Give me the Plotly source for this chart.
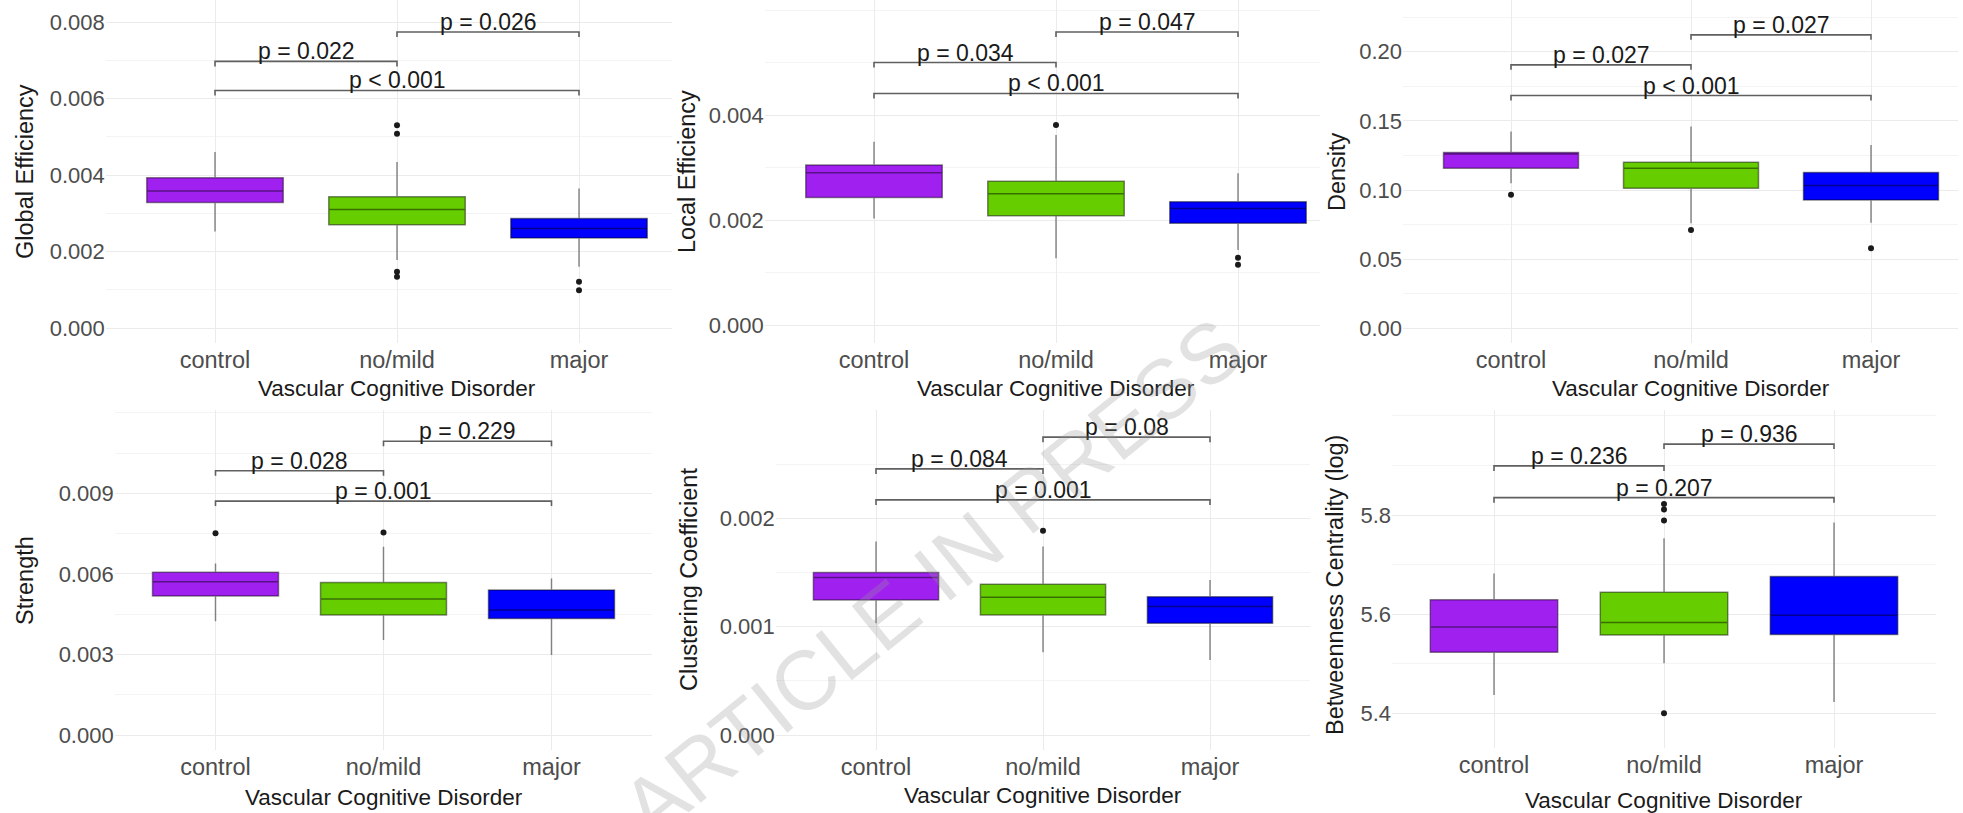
import plotly.graph_objects as go

W, H = 1963, 813
CATS = ["control", "no/mild", "major"]
COLORS = ["#A020F0", "#66CD00", "#0000FF"]
XTITLE = "Vascular Cognitive Disorder"

# ---------------- data ----------------
# Global Efficiency
ge_q1 = [0.00328, 0.00270, 0.00235]
ge_med = [0.00358, 0.00310, 0.00260]
ge_q3 = [0.00393, 0.00343, 0.00286]
ge_lo = [0.00252, 0.00178, 0.00160]
ge_hi = [0.00460, 0.00434, 0.00365]
ge_out = [[], [0.00530, 0.00508, 0.00147, 0.00134], [0.00121, 0.00099]]
ge_brk_y = [0.00697, 0.00621, 0.00774]
ge_brk_lab = ["p = 0.022", "p < 0.001", "p = 0.026"]
ge_ticks = [0.000, 0.002, 0.004, 0.006, 0.008]

# Local Efficiency
le_q1 = [0.00243, 0.00208, 0.00194]
le_med = [0.00290, 0.00250, 0.00222]
le_q3 = [0.00305, 0.00274, 0.00235]
le_lo = [0.00203, 0.00127, 0.00143]
le_hi = [0.00349, 0.00362, 0.00289]
le_out = [[], [0.00381], [0.00128, 0.00115]]
le_brk_y = [0.00500, 0.00441, 0.00558]
le_brk_lab = ["p = 0.034", "p < 0.001", "p = 0.047"]
le_ticks = [0.000, 0.002, 0.004]

# Density
de_q1 = [0.1158, 0.1013, 0.0928]
de_med = [0.1261, 0.1158, 0.1032]
de_q3 = [0.1271, 0.1201, 0.1126]
de_lo = [0.1049, 0.0760, 0.0764]
de_hi = [0.1423, 0.1459, 0.1326]
de_out = [[0.0965], [0.0711], [0.0579]]
de_brk_y = [0.1905, 0.1683, 0.2122]
de_brk_lab = ["p = 0.027", "p < 0.001", "p = 0.027"]
de_ticks = [0.00, 0.05, 0.10, 0.15, 0.20]

# Strength
st_q1 = [0.00518, 0.00447, 0.00434]
st_med = [0.00571, 0.00506, 0.00465]
st_q3 = [0.00606, 0.00568, 0.00540]
st_lo = [0.00424, 0.00354, 0.00298]
st_hi = [0.00639, 0.00701, 0.00583]
st_out = [[0.00751], [0.00754], []]
st_brk_y = [0.00984, 0.00871, 0.01094]
st_brk_lab = ["p = 0.028", "p = 0.001", "p = 0.229"]
st_ticks = [0.000, 0.003, 0.006, 0.009]

# Clustering Coefficient
cc_q1 = [0.001247, 0.001108, 0.001031]
cc_med = [0.001453, 0.001271, 0.001185]
cc_q3 = [0.001499, 0.001392, 0.001277]
cc_lo = [0.001031, 0.000763, 0.000693]
cc_hi = [0.001785, 0.001739, 0.001431]
cc_out = [[], [0.001884], []]
cc_brk_y = [0.002456, 0.002170, 0.002749]
cc_brk_lab = ["p = 0.084", "p = 0.001", "p = 0.08"]
cc_ticks = [0.000, 0.001, 0.002]

# Betweenness Centrality (log)
bc_q1 = [5.523, 5.558, 5.559]
bc_med = [5.574, 5.583, 5.598]
bc_q3 = [5.629, 5.644, 5.676]
bc_lo = [5.437, 5.501, 5.423]
bc_hi = [5.682, 5.753, 5.785]
bc_out = [[], [5.822, 5.811, 5.789, 5.400], []]
bc_brk_y = [5.899, 5.835, 5.943]
bc_brk_lab = ["p = 0.236", "p = 0.207", "p = 0.936"]
bc_ticks = [5.4, 5.6, 5.8]

BRK_PAIRS = [(0, 1), (0, 2), (1, 2)]

# ---------------- layout (pixel geometry of each panel) ----------------
PANELS = [
    dict(title="Global Efficiency", q1=ge_q1, med=ge_med, q3=ge_q3, lo=ge_lo, hi=ge_hi, out=ge_out,
         by=ge_brk_y, bl=ge_brk_lab, ticks=ge_ticks, c0=215, step=182, clip=672, top=0, bottom=343,
         cal=(0.0, 328, 0.008, 22), minor=0.001, fmt=".3f", ytx=25, yty=172, xty=388),
    dict(title="Local Efficiency", q1=le_q1, med=le_med, q3=le_q3, lo=le_lo, hi=le_hi, out=le_out,
         by=le_brk_y, bl=le_brk_lab, ticks=le_ticks, c0=874, step=182, clip=1320, top=0, bottom=343,
         cal=(0.0, 325, 0.004, 115), minor=0.001, fmt=".3f", ytx=687, yty=172, xty=388),
    dict(title="Density", q1=de_q1, med=de_med, q3=de_q3, lo=de_lo, hi=de_hi, out=de_out,
         by=de_brk_y, bl=de_brk_lab, ticks=de_ticks, c0=1511, step=180, clip=1958, top=0, bottom=343,
         cal=(0.0, 328.3, 0.2, 51.7), minor=0.025, fmt=".2f", ytx=1337, yty=172, xty=388),
    dict(title="Strength", q1=st_q1, med=st_med, q3=st_q3, lo=st_lo, hi=st_hi, out=st_out,
         by=st_brk_y, bl=st_brk_lab, ticks=st_ticks, c0=215.5, step=168, clip=None, top=410, bottom=750,
         cal=(0.0, 735, 0.009, 493.3), minor=0.0015, fmt=".3f", ytx=25, yty=581, xty=797),
    dict(title="Clustering Coefficient", q1=cc_q1, med=cc_med, q3=cc_q3, lo=cc_lo, hi=cc_hi, out=cc_out,
         by=cc_brk_y, bl=cc_brk_lab, ticks=cc_ticks, c0=876, step=167, clip=None, top=410, bottom=750,
         cal=(0.0, 735, 0.002, 518.3), minor=0.0005, fmt=".3f", ytx=689, yty=580, xty=795),
    dict(title="Betweenness Centrality (log)", q1=bc_q1, med=bc_med, q3=bc_q3, lo=bc_lo, hi=bc_hi, out=bc_out,
         by=bc_brk_y, bl=bc_brk_lab, ticks=bc_ticks, c0=1494, step=170, clip=None, top=410, bottom=748,
         cal=(5.4, 713.3, 5.8, 515), minor=0.1, fmt=".1f", ytx=1335, yty=585, xty=800),
]

FONT = "Liberation Sans, Arial, sans-serif"
LINE_COL = "rgba(0,0,0,0.45)"
BRK_COL = "#606060"
TIP_PX = 5

fig = go.Figure()
layout = dict(
    width=W, height=H, margin=dict(l=0, r=0, t=0, b=0),
    paper_bgcolor="white", plot_bgcolor="white", showlegend=False,
    font=dict(family=FONT, color="#1a1a1a"),
)
annotations = []

for k, p in enumerate(PANELS, start=1):
    xa = "x" if k == 1 else f"x{k}"
    ya = "y" if k == 1 else f"y{k}"
    xkey = "xaxis" if k == 1 else f"xaxis{k}"
    ykey = "yaxis" if k == 1 else f"yaxis{k}"

    left_px = p["c0"] - 0.6 * p["step"]
    right_px = p["c0"] + 2.6 * p["step"]
    if p["clip"] is not None:
        right_px = min(right_px, p["clip"])
    x_hi = (right_px - p["c0"]) / p["step"]

    va, pa, vb, pb = p["cal"]
    scale = (pa - pb) / (vb - va)  # px per unit
    y_lo = va - (p["bottom"] - pa) / scale
    y_hi = va + (pa - p["top"]) / scale
    tip = TIP_PX / scale

    layout[xkey] = dict(
        domain=[left_px / W, right_px / W], anchor=ya, type="category",
        categoryorder="array", categoryarray=CATS, range=[-0.6, x_hi],
        showgrid=True, gridcolor="#EBEBEB", gridwidth=1.2, zeroline=False,
        showline=False, ticks="", tickfont=dict(size=23.5, color="#4D4D4D", family=FONT),
    )
    layout[ykey] = dict(
        domain=[1 - p["bottom"] / H, 1 - p["top"] / H], anchor=xa,
        range=[y_lo, y_hi], tickmode="array", tickvals=p["ticks"],
        ticktext=[format(v, p["fmt"]) for v in p["ticks"]],
        showgrid=True, gridcolor="#EBEBEB", gridwidth=1.2, zeroline=False,
        showline=False, ticks="", tickfont=dict(size=22, color="#4D4D4D", family=FONT),
        minor=dict(tickmode="linear", tick0=0, dtick=p["minor"], showgrid=True,
                   gridcolor="#F4F4F4", gridwidth=1),
    )

    for i, cat in enumerate(CATS):
        fig.add_trace(go.Box(
            x=[cat], q1=[p["q1"][i]], median=[p["med"][i]], q3=[p["q3"][i]],
            lowerfence=[p["lo"][i]], upperfence=[p["hi"][i]],
            xaxis=xa, yaxis=ya, fillcolor=COLORS[i],
            line=dict(color=LINE_COL, width=1.5), width=0.75, whiskerwidth=0,
            boxpoints=False, hoverinfo="skip", showlegend=False,
        ))
        if p["out"][i]:
            fig.add_trace(go.Scatter(
                x=[cat] * len(p["out"][i]), y=p["out"][i], mode="markers",
                xaxis=xa, yaxis=ya, marker=dict(color="#1a1a1a", size=6),
                hoverinfo="skip", showlegend=False,
            ))

    for (i, j), yb, lab in zip(BRK_PAIRS, p["by"], p["bl"]):
        fig.add_trace(go.Scatter(
            x=[CATS[i], CATS[i], CATS[j], CATS[j]], y=[yb - tip, yb, yb, yb - tip],
            mode="lines", xaxis=xa, yaxis=ya, line=dict(color=BRK_COL, width=1.6),
            hoverinfo="skip", showlegend=False,
        ))
        annotations.append(dict(
            x=(i + j) / 2, y=yb, xref=xa, yref=ya, text=lab, showarrow=False,
            yanchor="bottom", yshift=-5, font=dict(size=23, color="#1a1a1a", family=FONT),
        ))

    # axis titles
    annotations.append(dict(
        x=(p["c0"] + p["step"]) / W, y=1 - p["xty"] / H, xref="paper", yref="paper",
        text=XTITLE, showarrow=False, xanchor="center", yanchor="middle",
        font=dict(size=22.5, color="#1a1a1a", family=FONT),
    ))
    annotations.append(dict(
        x=p["ytx"] / W, y=1 - p["yty"] / H, xref="paper", yref="paper",
        text=p["title"], showarrow=False, textangle=-90, xanchor="center", yanchor="middle",
        font=dict(size=23.5, color="#1a1a1a", family=FONT),
    ))

# watermark
annotations.append(dict(
    x=932 / W, y=1 - 578 / H, xref="paper", yref="paper", text="ARTICLE IN PRESS",
    showarrow=False, textangle=-39, xanchor="center", yanchor="middle",
    font=dict(size=84, color="rgba(150,150,150,0.28)", family=FONT),
))

layout["annotations"] = annotations
fig.update_layout(**layout)
fig.write_html(
    "out.html",
    config={"displayModeBar": False},
    post_script="document.body.style.margin='0';document.body.style.overflow='hidden';",
)
